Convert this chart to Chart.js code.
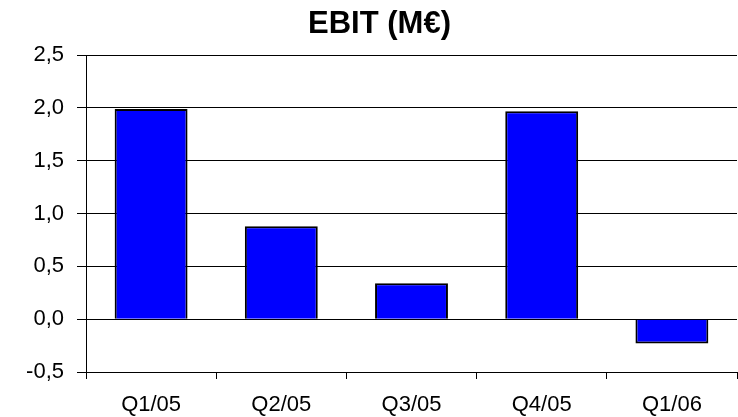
<!DOCTYPE html>
<html>
<head>
<meta charset="utf-8">
<script src="https://cdn.jsdelivr.net/npm/chart.js@4/dist/chart.umd.min.js"></script>
<style>
  html, body { margin: 0; padding: 0; background: #fff; }
  #wrap { width: 738px; height: 417px; }
</style>
</head>
<body>
<div id="wrap"><canvas id="c" width="738" height="417"></canvas></div>
<script>
// Quarterly EBIT, millions of euros
const quarters = ['Q1/05', 'Q2/05', 'Q3/05', 'Q4/05', 'Q1/06'];
const ebit = [1.99, 0.88, 0.34, 1.97, -0.23];
const yTicks = [-0.5, 0, 0.5, 1, 1.5, 2, 2.5];
const titleText = 'EBIT (M€)';

const FONT = "'Liberation Sans', Arial, sans-serif";
const fmt = v => v.toFixed(1).replace('.', ',');

new Chart(document.getElementById('c'), {
  type: 'bar',
  data: {
    labels: quarters,
    datasets: [{
      data: ebit,
      backgroundColor: '#0000ff',
      borderColor: '#000000',
      borderWidth: 2,
      barPercentage: 0.56,
      categoryPercentage: 1.0
    }]
  },
  options: {
    responsive: false,
    animation: false,
    devicePixelRatio: 1,
    layout: { padding: { left: 22, right: 1, top: 0, bottom: 0 } },
    plugins: {
      legend: { display: false },
      tooltip: { enabled: false },
      title: {
        display: true,
        text: titleText,
        color: '#000',
        font: { family: FONT, size: 31, weight: 'bold', lineHeight: 1.2 },
        padding: { top: 6, bottom: 12 }
      }
    },
    scales: {
      x: {
        afterFit: s => { s.height = 45; },
        grid: {
          offset: true,
          drawOnChartArea: false,
          drawTicks: true,
          tickLength: 7,
          color: '#000'
        },
        border: { display: true, color: '#000', width: 1 },
        ticks: {
          color: '#000',
          font: { family: FONT, size: 22 },
          padding: 13,
          maxRotation: 0
        }
      },
      y: {
        min: yTicks[0],
        max: yTicks[yTicks.length - 1],
        afterBuildTicks: s => { s.ticks = yTicks.map(v => ({ value: v })); },
        afterFit: s => { s.width = 64; },
        grid: {
          color: '#000',
          lineWidth: 1,
          tickLength: 9,
          drawTicks: true
        },
        border: { display: true, color: '#000', width: 1 },
        ticks: {
          color: '#000',
          font: { family: FONT, size: 22 },
          padding: 13,
          callback: v => fmt(v)
        }
      }
    }
  }
});
</script>
</body>
</html>
